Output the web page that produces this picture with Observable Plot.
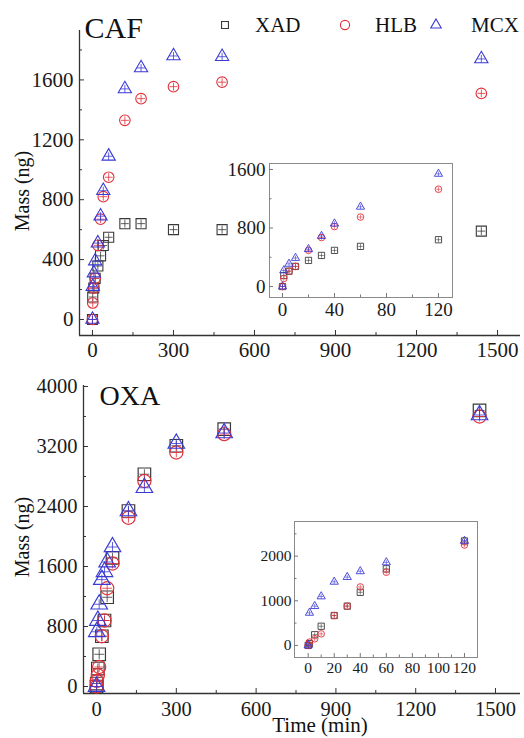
<!DOCTYPE html>
<html><head><meta charset="utf-8">
<script src="https://cdn.jsdelivr.net/npm/d3@7"></script>
<script src="https://cdn.jsdelivr.net/npm/@observablehq/plot@0.6"></script>
<style>
html,body{margin:0;padding:0;background:#fff;}
#wrap{position:relative;width:524px;height:738px;overflow:hidden;font-family:"Liberation Serif","DejaVu Serif",serif;}
#wrap > svg, #wrap > figure{position:absolute;margin:0;}
#wrap svg, #wrap svg text{font-family:"Liberation Serif","DejaVu Serif",serif !important;}
.ylab{position:absolute;white-space:nowrap;font-size:20px;line-height:1;color:#111;transform:translate(-50%,-50%) rotate(-90deg);}
</style></head>
<body><div id="wrap"></div>
<script>
// ---- data ----
const time   = [0, 1, 5, 10, 20, 30, 40, 60, 120, 180, 300, 480, 1440];
const cafXAD = [0, 150, 210, 275, 357, 425, 494, 549, 640, 640, 600, 600, 590];
const cafHLB = [0, 110, 210, 275, 495, 670, 820, 950, 1330, 1475, 1555, 1585, 1510];
const cafMCX = [0, 220, 310, 390, 510, 690, 860, 1090, 1540, 1680, 1760, 1755, 1740];
const oxaXAD = [0, 40, 240, 430, 670, 880, 1190, 1716, 2340, 2830, 3210, 3430, 3680];
const oxaHLB = [0, 75, 150, 260, 670, 880, 1310, 1640, 2250, 2740, 3120, 3365, 3600];
const oxaMCX = [0, 730, 880, 1097, 1425, 1530, 1660, 1860, 2340, 2650, 3240, 3380, 3620];
const seriesNames = ["XAD", "HLB", "MCX"];
const panelTitles = ["CAF", "OXA"];
const yLabel = "Mass (ng)";
const xLabel = "Time (min)";
const mainXTicks = [0, 300, 600, 900, 1200, 1500];
const mainXMinor = [150, 450, 750, 1050, 1350];
const cafYTicks = [0, 400, 800, 1200, 1600];
const cafYMinor = [200, 600, 1000, 1400, 1800];
const oxaYTicks = [0, 800, 1600, 2400, 3200, 4000];
const oxaYMinor = [400, 1200, 2000, 2800, 3600];
const cafInsetXTicks = [0, 40, 80, 120];
const cafInsetXMinor = [20, 60, 100];
const cafInsetYTicks = [0, 800, 1600];
const cafInsetYMinor = [400, 1200];
const oxaInsetXTicks = [0, 20, 40, 60, 80, 100, 120];
const oxaInsetXMinor = [10, 30, 50, 70, 90, 110];
const oxaInsetYTicks = [0, 1000, 2000];
const oxaInsetYMinor = [500, 1500, 2500];

const cafRows = time.map((t, i) => ({t, XAD: cafXAD[i], HLB: cafHLB[i], MCX: cafMCX[i]}));
const oxaRows = time.map((t, i) => ({t, XAD: oxaXAD[i], HLB: oxaHLB[i], MCX: oxaMCX[i]}));
const cafInset = cafRows.filter(d => d.t <= 120);
const oxaInset = oxaRows.filter(d => d.t <= 120);

const FONT = "Liberation Serif, DejaVu Serif, serif";
const COL = {XAD: "#3a3a3a", HLB: "#e2303a", MCX: "#3a3ad6"};
const SYM = {XAD: "square", HLB: "circle", MCX: "triangle"};
const K = {XAD: 1.07, HLB: 1, MCX: 0.93};
const fmt = d3.format("d");
const cross = {draw(ctx, size) {
  const r = Math.sqrt(size / Math.PI);
  ctx.moveTo(-r, 0); ctx.lineTo(r, 0); ctx.moveTo(0, -r); ctx.lineTo(0, r);
}};

function dots(rows, r, sw, ck, csw) {
  return seriesNames.flatMap(s => [
    Plot.dot(rows, {x: "t", y: s, symbol: SYM[s], r: r * K[s], stroke: COL[s], fill: "none", strokeWidth: sw}),
    Plot.dot(rows, {x: "t", y: s, symbol: cross, r: r * ck, stroke: COL[s], strokeWidth: csw})
  ]);
}

function axes(o) {
  return [
    Plot.axisX(o.xt, {tickSize: 0, tickPadding: o.xpad, tickFormat: fmt, fontSize: o.fs, label: null, fontFamily: FONT}),
    Plot.axisX(o.xt, {tickSize: -o.major, tickFormat: () => "", label: null, stroke: o.tc}),
    Plot.axisX(o.xm, {tickSize: -o.minor, tickFormat: () => "", label: null, stroke: o.tc}),
    Plot.axisY(o.yt, {tickSize: 0, tickPadding: o.ypad, tickFormat: fmt, fontSize: o.yfs || o.fs, label: null, fontFamily: FONT}),
    Plot.axisY(o.yt, {tickSize: -o.major, tickFormat: () => "", label: null, stroke: o.tc}),
    Plot.axisY(o.ym, {tickSize: -o.minor, tickFormat: () => "", label: null, stroke: o.tc})
  ];
}

const wrap = document.getElementById("wrap");
function place(el, left, top) { el.style.left = left + "px"; el.style.top = top + "px"; wrap.appendChild(el); }
const baseStyle = {fontFamily: FONT, color: "#1a1a1a", background: "transparent", overflow: "visible"};

// ---- top main panel (CAF) ----
const cafXD = [-48, 1585], cafYD = [-107, 1930];
const topMain = Plot.plot({
  width: 524, height: 368, marginLeft: 79, marginTop: 30, marginRight: 4, marginBottom: 33,
  x: {domain: cafXD}, y: {domain: cafYD},
  style: baseStyle,
  marks: [
    ...axes({xt: mainXTicks, xm: mainXMinor, yt: cafYTicks, ym: cafYMinor, fs: 21, yfs: 21, xpad: 7, ypad: 6, major: 5, minor: 3, tc: "#333"}),
    Plot.ruleX([cafXD[0]], {stroke: "#333", strokeWidth: 1.3}),
    Plot.ruleY([cafYD[0]], {stroke: "#333", strokeWidth: 1.3}),
    ...dots(cafRows, 5.3, 1.1, 0.75, 0.8),
    Plot.text([panelTitles[0]], {frameAnchor: "top-left", textAnchor: "start", lineAnchor: "top", dx: 5, dy: -14, fontSize: 30, fill: "#111", fontFamily: FONT})
  ]
});
place(topMain, 0, 0);

// ---- bottom main panel (OXA) ----
const oxaXD = [-49, 1594], oxaYD = [-93, 4013];
const botMain = Plot.plot({
  width: 524, height: 368, marginLeft: 83, marginTop: 15, marginRight: 4, marginBottom: 45,
  x: {domain: oxaXD}, y: {domain: oxaYD},
  style: baseStyle,
  marks: [
    ...axes({xt: mainXTicks, xm: mainXMinor, yt: oxaYTicks, ym: oxaYMinor, fs: 20.5, yfs: 20.5, xpad: 8, ypad: 6, major: 5, minor: 3, tc: "#333"}),
    Plot.ruleX([oxaXD[0]], {stroke: "#333", strokeWidth: 1.3}),
    Plot.ruleY([oxaYD[0]], {stroke: "#333", strokeWidth: 1.3}),
    ...dots(oxaRows, 6.6, 1.2, 0.75, 0.8),
    Plot.text([panelTitles[1]], {frameAnchor: "top-left", textAnchor: "start", lineAnchor: "top", dx: 16, dy: 0, fontSize: 28, fill: "#111", fontFamily: FONT}),
    Plot.text([xLabel], {frameAnchor: "bottom", lineAnchor: "top", dx: 18, dy: 24, fontSize: 21, fill: "#111", fontFamily: FONT})
  ]
});
place(botMain, 0, 370);

// ---- top inset ----
const cafIXD = [-10, 130.8], cafIYD = [-150, 1682];
const topInset = Plot.plot({
  width: 243, height: 168, marginLeft: 54, marginTop: 8, marginRight: 6, marginBottom: 26,
  x: {domain: cafIXD}, y: {domain: cafIYD},
  style: baseStyle,
  marks: [
    Plot.frame({fill: "white", stroke: "#8a8a8a", strokeWidth: 1}),
    ...axes({xt: cafInsetXTicks, xm: cafInsetXMinor, yt: cafInsetYTicks, ym: cafInsetYMinor, fs: 19, xpad: 5, ypad: 4, major: 4, minor: 2.5, tc: "#777"}),
    ...dots(cafInset, 3.3, 0.9, 0.7, 0.6)
  ]
});
place(topInset, 215, 155);

// ---- bottom inset ----
const oxaIXD = [-10.5, 130], oxaIYD = [-270, 2776];
const botInset = Plot.plot({
  width: 233, height: 169, marginLeft: 44, marginTop: 9, marginRight: 6, marginBottom: 24,
  x: {domain: oxaIXD}, y: {domain: oxaIYD},
  style: baseStyle,
  marks: [
    Plot.frame({fill: "white", stroke: "#8a8a8a", strokeWidth: 1}),
    ...axes({xt: oxaInsetXTicks, xm: oxaInsetXMinor, yt: oxaInsetYTicks, ym: oxaInsetYMinor, fs: 15.5, xpad: 4, ypad: 3, major: 4, minor: 2.5, tc: "#777"}),
    ...dots(oxaInset, 3.3, 0.9, 0.7, 0.6)
  ]
});
place(botInset, 250, 512);

// ---- y-axis titles (rotated, centred on the reference positions) ----
[[22, 191], [22, 537]].forEach(([cx, cy]) => {
  const d = document.createElement("div");
  d.className = "ylab";
  d.textContent = yLabel;
  d.style.left = cx + "px"; d.style.top = cy + "px";
  wrap.appendChild(d);
});

// ---- legend ----
const legendPos = {XAD: [225, 255], HLB: [345, 375], MCX: [436, 471]};
const legendR = {XAD: 3.9, HLB: 4.6, MCX: 3.9};
const leg = d3.create("svg").attr("width", 524).attr("height", 45).style("overflow", "visible");
seriesNames.forEach(s => {
  const [sx, tx] = legendPos[s];
  const sym = s === "XAD" ? d3.symbolSquare : s === "HLB" ? d3.symbolCircle : d3.symbolTriangle;
  leg.append("path").attr("d", d3.symbol(sym, Math.PI * legendR[s] ** 2)())
    .attr("transform", `translate(${sx},25)`)
    .attr("fill", "none").attr("stroke", COL[s]).attr("stroke-width", 1.1);
  leg.append("text").attr("x", tx).attr("y", 32).attr("font-family", FONT).attr("font-size", 21)
    .attr("fill", "#111").text(s);
});
place(leg.node(), 0, 0);
</script>
</body></html>
